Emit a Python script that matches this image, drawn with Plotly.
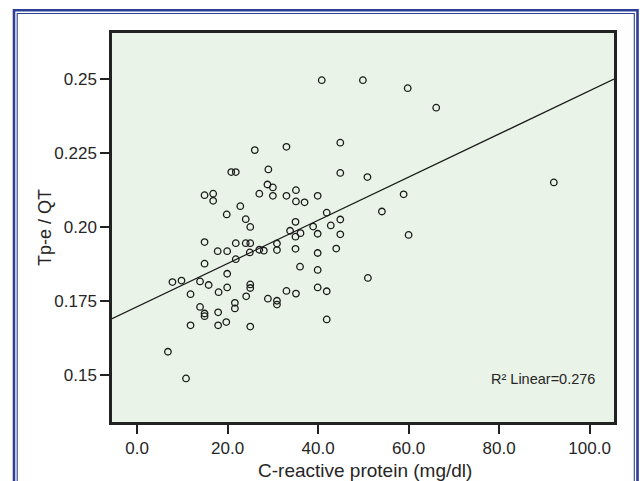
import plotly.graph_objects as go

# ---- data ----
crp = [40.8, 49.9, 59.8, 66.1, 44.9, 33.0, 26.0, 29.0, 20.8, 21.8,
       44.9, 50.9, 92.1, 28.8, 30.0, 35.1, 14.9, 16.8, 27.0, 30.0,
       33.0, 39.9, 58.9, 16.8, 35.1, 37.0, 22.8, 19.8, 54.1, 41.9,
       24.0, 44.9, 35.0, 25.0, 42.8, 38.9, 33.8, 36.1, 35.0, 39.9,
       44.9, 60.0, 14.9, 21.8, 24.0, 25.0, 30.9, 27.0, 28.0, 17.8,
       19.9, 24.9, 30.9, 35.0, 44.0, 39.9, 21.8, 14.9, 36.0, 39.9,
       19.9, 51.0, 7.8, 9.8, 13.9, 15.8, 19.9, 25.0, 25.0, 39.9,
       11.8, 18.0, 33.0, 35.1, 41.9, 24.1, 28.9, 30.9, 30.9, 21.6,
       21.6, 13.9, 14.9, 14.9, 17.9, 11.8, 17.9, 19.7, 25.0, 41.9,
       6.8, 10.8]
tpe_qt = [0.2496, 0.2496, 0.2469, 0.2403, 0.2285, 0.2271, 0.2260, 0.2195, 0.2186, 0.2186,
          0.2183, 0.2169, 0.2151, 0.2144, 0.2134, 0.2125, 0.2108, 0.2113, 0.2113, 0.2106,
          0.2106, 0.2106, 0.2111, 0.2089, 0.2087, 0.2084, 0.2071, 0.2043, 0.2053, 0.2049,
          0.2027, 0.2026, 0.2018, 0.2001, 0.2006, 0.2002, 0.1988, 0.1980, 0.1968, 0.1978,
          0.1976, 0.1974, 0.1950, 0.1946, 0.1946, 0.1946, 0.1945, 0.1924, 0.1921, 0.1919,
          0.1919, 0.1915, 0.1923, 0.1927, 0.1928, 0.1913, 0.1892, 0.1877, 0.1867, 0.1856,
          0.1843, 0.1829, 0.1815, 0.1820, 0.1817, 0.1805, 0.1797, 0.1807, 0.1795, 0.1797,
          0.1774, 0.1781, 0.1785, 0.1776, 0.1784, 0.1767, 0.1759, 0.1752, 0.1739, 0.1745,
          0.1726, 0.1731, 0.1709, 0.1700, 0.1713, 0.1669, 0.1669, 0.1680, 0.1665, 0.1689,
          0.1580, 0.1490]

fit_intercept = 0.1732
fit_slope = 0.000728
r2_label = "R\u00b2 Linear=0.276"

x_ticks = [0, 20, 40, 60, 80, 100]
y_ticks = [0.15, 0.175, 0.20, 0.225, 0.25]
y_tick_labels = ["0.15", "0.175", "0.20", "0.225", "0.25"]

x_range = [-5.56, 105.4]
y_range = [0.1343, 0.2655]

# ---- figure geometry ----
W, H = 643, 481
ML, MR, MT, MB = 112, 29, 33, 59
PW, PH = W - ML - MR, H - MT - MB


def px(xp):
    return (xp - ML) / PW


def py(yp):
    return (H - MB - yp) / PH


FONT = "Liberation Sans, Arial, Helvetica, sans-serif"
TXT = "#262626"
DARK = "#222222"
BLUE = "#2c3f95"

fig = go.Figure()

fig.add_trace(go.Scatter(
    x=x_range,
    y=[fit_intercept + fit_slope * v for v in x_range],
    mode="lines",
    line=dict(color="#1a1a1a", width=1.2),
    hoverinfo="skip",
    showlegend=False,
))

fig.add_trace(go.Scatter(
    x=crp, y=tpe_qt, mode="markers",
    marker=dict(symbol="circle-open", size=6.5, color="#1a1a1a",
                line=dict(width=1.3, color="#1a1a1a")),
    showlegend=False,
))

axis_common = dict(
    showline=True, linecolor=DARK, linewidth=2.5, mirror=True,
    showgrid=False, zeroline=False,
    ticks="outside", ticklen=9, tickwidth=2, tickcolor=DARK,
    tickfont=dict(family=FONT, size=17, color=TXT),
)

fig.update_layout(
    width=W, height=H,
    margin=dict(l=ML, r=MR, t=MT, b=MB),
    paper_bgcolor="white",
    plot_bgcolor="#e9f3e7",
    xaxis=dict(range=x_range, tickvals=x_ticks, tickformat=".1f", **axis_common),
    yaxis=dict(range=y_range, tickvals=y_ticks, ticktext=y_tick_labels, **axis_common),
    showlegend=False,
)

annotations = [
    dict(text="C-reactive protein (mg/dl)", x=px(364.5), y=py(470.5),
         xref="paper", yref="paper", xanchor="center", yanchor="middle",
         showarrow=False, font=dict(family=FONT, size=19, color=TXT)),
    dict(text="Tp-e / QT", x=px(45), y=py(228), textangle=-90,
         xref="paper", yref="paper", xanchor="center", yanchor="middle",
         showarrow=False, font=dict(family=FONT, size=18, color=TXT)),
    dict(text=r2_label, x=px(597), y=py(379),
         xref="paper", yref="paper", xanchor="right", yanchor="middle",
         showarrow=False, font=dict(family=FONT, size=14.5, color=TXT)),
]
fig.update_layout(annotations=annotations)

shapes = [
    dict(type="rect", xref="paper", yref="paper",
         x0=px(14), x1=px(637.5), y0=py(495), y1=py(10.3),
         line=dict(color=BLUE, width=2.6), fillcolor="rgba(0,0,0,0)", layer="above"),
    dict(type="rect", xref="paper", yref="paper",
         x0=px(17.2), x1=px(634.3), y0=py(495), y1=py(13.5),
         line=dict(color=BLUE, width=1.1), fillcolor="rgba(0,0,0,0)", layer="above"),
]
fig.update_layout(shapes=shapes)

fig.write_html(
    "out.html",
    config={"displayModeBar": False},
    post_script="document.body.style.margin='0px';document.body.style.overflow='hidden';",
)
